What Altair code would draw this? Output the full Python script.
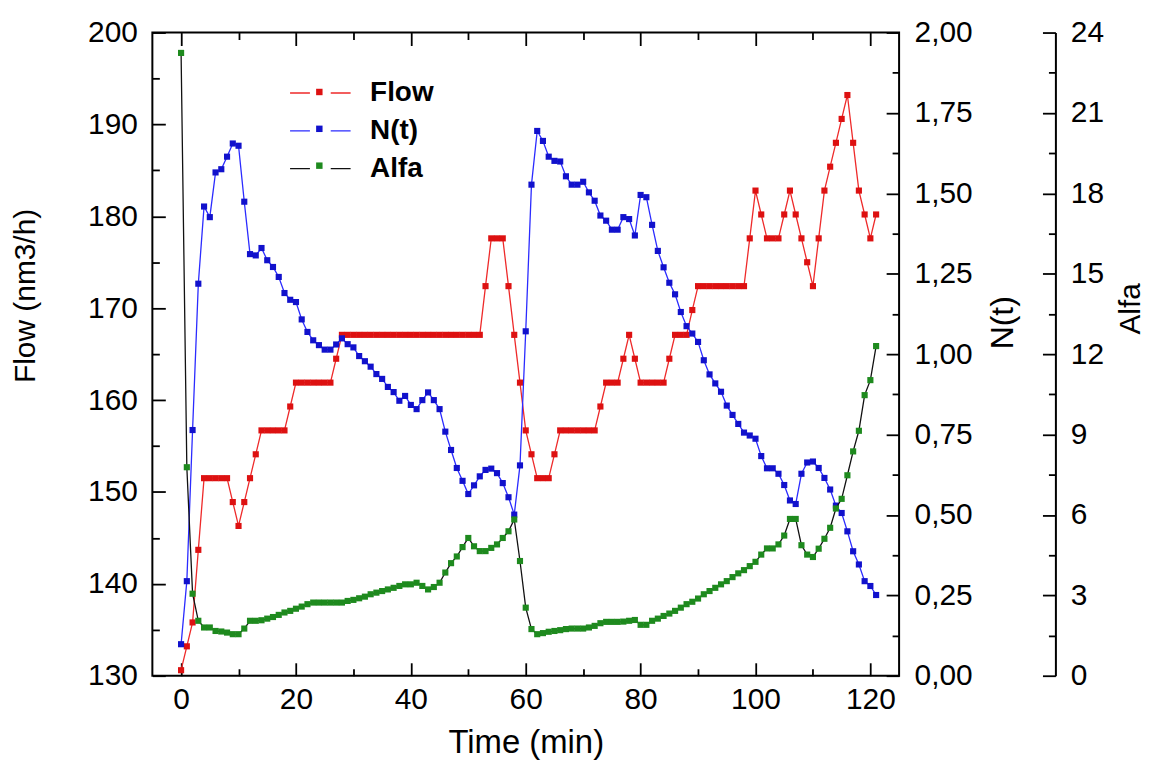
import altair as alt
import pandas as pd

FONT = "Liberation Sans"

time_min = list(range(0, 122))

flow = [130.6, 133.2, 135.8, 143.7, 151.5, 151.5, 151.5, 151.5, 151.5, 148.9,
        146.3, 148.9, 151.5, 154.1, 156.7, 156.7, 156.7, 156.7, 156.7, 159.3,
        161.9, 161.9, 161.9, 161.9, 161.9, 161.9, 161.9, 164.5, 167.1, 167.1,
        167.1, 167.1, 167.1, 167.1, 167.1, 167.1, 167.1, 167.1, 167.1, 167.1,
        167.1, 167.1, 167.1, 167.1, 167.1, 167.1, 167.1, 167.1, 167.1, 167.1,
        167.1, 167.1, 167.1, 172.4, 177.6, 177.6, 177.6, 172.4, 167.1, 161.9,
        156.7, 154.1, 151.5, 151.5, 151.5, 154.1, 156.7, 156.7, 156.7, 156.7,
        156.7, 156.7, 156.7, 159.3, 161.9, 161.9, 161.9, 164.5, 167.1, 164.5,
        161.9, 161.9, 161.9, 161.9, 161.9, 164.5, 167.1, 167.1, 167.1, 169.8,
        172.4, 172.4, 172.4, 172.4, 172.4, 172.4, 172.4, 172.4, 172.4, 177.6,
        182.8, 180.2, 177.6, 177.6, 177.6, 180.2, 182.8, 180.2, 177.6, 175.0,
        172.4, 177.6, 182.8, 185.4, 188.0, 190.6, 193.2, 188.0, 182.8, 180.2,
        177.6, 180.2]

n_t = [0.098, 0.294, 0.764, 1.219, 1.459, 1.426, 1.565, 1.575, 1.614, 1.655,
       1.648, 1.474, 1.311, 1.307, 1.330, 1.292, 1.271, 1.240, 1.190, 1.169,
       1.162, 1.108, 1.069, 1.043, 1.028, 1.014, 1.014, 1.030, 1.049, 1.031,
       1.021, 0.994, 0.978, 0.961, 0.938, 0.923, 0.898, 0.882, 0.855, 0.870,
       0.842, 0.829, 0.857, 0.881, 0.857, 0.829, 0.759, 0.702, 0.646, 0.606,
       0.565, 0.592, 0.620, 0.640, 0.644, 0.630, 0.599, 0.555, 0.501, 0.654,
       1.071, 1.527, 1.694, 1.663, 1.614, 1.601, 1.599, 1.553, 1.527, 1.527,
       1.536, 1.503, 1.477, 1.431, 1.415, 1.387, 1.387, 1.426, 1.420, 1.369,
       1.495, 1.488, 1.402, 1.321, 1.270, 1.222, 1.186, 1.131, 1.087, 1.064,
       1.038, 0.981, 0.937, 0.909, 0.883, 0.840, 0.811, 0.783, 0.756, 0.747,
       0.737, 0.683, 0.645, 0.645, 0.628, 0.593, 0.545, 0.534, 0.628, 0.663,
       0.666, 0.646, 0.615, 0.579, 0.529, 0.506, 0.449, 0.387, 0.346, 0.294,
       0.279, 0.251]

alfa = [23.24, 7.78, 3.06, 2.05, 1.80, 1.80, 1.67, 1.65, 1.61, 1.55,
        1.55, 1.76, 2.05, 2.05, 2.07, 2.13, 2.19, 2.27, 2.36, 2.42,
        2.50, 2.58, 2.67, 2.73, 2.73, 2.73, 2.73, 2.73, 2.73, 2.79,
        2.83, 2.89, 2.95, 3.04, 3.10, 3.16, 3.22, 3.28, 3.35, 3.41,
        3.41, 3.47, 3.35, 3.22, 3.31, 3.47, 3.85, 4.20, 4.45, 4.80,
        5.14, 4.83, 4.65, 4.65, 4.77, 4.90, 5.14, 5.39, 5.83, 4.28,
        2.54, 1.74, 1.55, 1.59, 1.64, 1.67, 1.70, 1.74, 1.76, 1.76,
        1.76, 1.80, 1.86, 1.96, 2.01, 2.01, 2.01, 2.02, 2.05, 2.08,
        1.90, 1.90, 2.05, 2.13, 2.23, 2.32, 2.42, 2.54, 2.67, 2.76,
        2.88, 3.04, 3.16, 3.28, 3.41, 3.53, 3.68, 3.82, 3.94, 4.09,
        4.25, 4.52, 4.75, 4.75, 4.90, 5.23, 5.85, 5.85, 4.87, 4.52,
        4.43, 4.74, 5.11, 5.52, 6.24, 6.60, 7.48, 8.37, 9.14, 10.47,
        11.03, 12.30]

series_names = ["Flow", "N(t)", "Alfa"]
marker_keys = ["Flow ■", "N(t) ■", "Alfa ■"]
line_colors = ["#ee2a2a", "#2b2bff", "#111111"]
marker_colors = ["#dd1111", "#1111cc", "#1e8a1e"]

x_major = [0, 20, 40, 60, 80, 100, 120]
x_minor = [10, 30, 50, 70, 90, 110]
flow_major = [130, 140, 150, 160, 170, 180, 190, 200]
flow_minor = [135, 145, 155, 165, 175, 185, 195]
n_major = [0, 0.25, 0.5, 0.75, 1.0, 1.25, 1.5, 1.75, 2.0]
n_minor = [0.125, 0.375, 0.625, 0.875, 1.125, 1.375, 1.625, 1.875]
alfa_major = [0, 3, 6, 9, 12, 15, 18, 21, 24]
alfa_minor = [1.5, 4.5, 7.5, 10.5, 13.5, 16.5, 19.5, 22.5]

df = pd.DataFrame({"t": time_min, "flow": flow, "n": n_t, "alfa": alfa})

W, H = 750, 646
X_DOM = [-5, 125]
MAJ, MIN = 13, 7
LBL = 30
ALFA_OFFSET = 157

stroke_scale = alt.Scale(domain=series_names, range=line_colors)
fill_scale = alt.Scale(domain=marker_keys, range=marker_colors)

LEG_X = 148.7
LEG_Y = 40.7
stroke_legend = alt.Legend(
    orient="none", legendX=LEG_X, legendY=LEG_Y, title=None, padding=0,
    rowPadding=4, symbolType="M-1.6,0H-0.55M0.55,0H1.6", symbolSize=1444,
    symbolStrokeWidth=1.3, symbolOffset=0, labelOffset=30, labelFont=FONT,
    labelFontSize=28, labelFontWeight="bold", labelColor="black",
)
fill_legend = alt.Legend(
    orient="none", legendX=LEG_X, legendY=LEG_Y, title=None, padding=0,
    rowPadding=4, symbolType="M-0.17,-0.17H0.17V0.17H-0.17Z", symbolSize=1444,
    symbolStrokeWidth=0, symbolOffset=0, labelOffset=30, labelFont=FONT,
    labelFontSize=28, labelExpr="''",
)

x_scale = alt.Scale(domain=X_DOM, nice=False, zero=False)
y_flow_scale = alt.Scale(domain=[130, 200], nice=False, zero=False)
y_n_scale = alt.Scale(domain=[0, 2], nice=False, zero=False)
y_alfa_scale = alt.Scale(domain=[0, 24], nice=False, zero=False)


def tick_axis(orient, values, size, offset):
    # tick-only axis, flipped to the opposite side so that ticks point inward
    return alt.Axis(orient=orient, values=values, tickSize=size, labels=False,
                    title=None, domain=False, grid=False, offset=offset)


ax_x_labels = alt.Axis(orient="bottom", values=x_major, ticks=False, labelPadding=9,
                       labelFontSize=LBL, title="Time (min)", titleFontSize=33,
                       titlePadding=12, domain=False, grid=False)
ax_flow_labels = alt.Axis(orient="left", values=flow_major, ticks=False, labelPadding=15,
                          labelFontSize=LBL, title="Flow (nm3/h)", titleFontSize=30,
                          titlePadding=47, titleY=264, domain=False, grid=False,
                          format="d")
ax_n_labels = alt.Axis(orient="right", values=n_major, ticks=False, labelPadding=15,
                       labelFontSize=LBL,
                       labelExpr="replace(format(datum.value, '.2f'), '.', ',')",
                       title="N(t)", titleFontSize=32, titleAngle=270,
                       titleBaseline="top", titlePadding=16, titleY=291,
                       domain=False, grid=False)
ax_alfa_labels = alt.Axis(orient="right", values=alfa_major, ticks=False, labelPadding=15,
                          labelFontSize=LBL, format="d", title="Alfa", titleFontSize=30,
                          titleAngle=270, titleBaseline="top", titlePadding=12,
                          titleY=277, domain=True, domainColor="black", domainWidth=2,
                          offset=ALFA_OFFSET, grid=False)


def series_layer(field, yscale, xaxis, yaxis, name, key):
    base = alt.Chart(df).encode(
        x=alt.X("t:Q", scale=x_scale, axis=xaxis),
        y=alt.Y(f"{field}:Q", scale=yscale, axis=yaxis),
    )
    line = base.mark_line(strokeWidth=1.3).transform_calculate(
        series=f"'{name}'"
    ).encode(stroke=alt.Stroke("series:N", scale=stroke_scale, legend=stroke_legend))
    pts = base.mark_square(size=38, opacity=1).transform_calculate(
        marker=f"'{key}'"
    ).encode(fill=alt.Fill("marker:N", scale=fill_scale, legend=fill_legend))
    return line + pts


def tick_layer(field, yscale, xaxis, yaxis):
    return alt.Chart(df).mark_point(opacity=0).encode(
        x=alt.X("t:Q", scale=x_scale, axis=xaxis),
        y=alt.Y(f"{field}:Q", scale=yscale, axis=yaxis),
    )


flow_layer = series_layer("flow", y_flow_scale, ax_x_labels, ax_flow_labels,
                          "Flow", "Flow ■")
n_layer = series_layer("n", y_n_scale, tick_axis("top", x_major, MAJ, -H), ax_n_labels,
                       "N(t)", "N(t) ■")
alfa_layer = series_layer("alfa", y_alfa_scale, tick_axis("top", x_minor, MIN, -H),
                          ax_alfa_labels, "Alfa", "Alfa ■")

ticks_flow_major = tick_layer("flow", y_flow_scale, tick_axis("bottom", x_major, MAJ, -H),
                              tick_axis("right", flow_major, MAJ, -W))
ticks_flow_minor = tick_layer("flow", y_flow_scale, tick_axis("bottom", x_minor, MIN, -H),
                              tick_axis("right", flow_minor, MIN, -W))
ticks_n_major = tick_layer("n", y_n_scale, None, tick_axis("left", n_major, MAJ, -W))
ticks_n_minor = tick_layer("n", y_n_scale, None, tick_axis("left", n_minor, MIN, -W))
ticks_alfa_major = tick_layer("alfa", y_alfa_scale, None,
                              tick_axis("left", alfa_major, MAJ, -(W + ALFA_OFFSET)))
ticks_alfa_minor = tick_layer("alfa", y_alfa_scale, None,
                              tick_axis("left", alfa_minor, MIN, -(W + ALFA_OFFSET)))

chart = alt.layer(
    ticks_flow_major, ticks_flow_minor, ticks_n_major, ticks_n_minor,
    ticks_alfa_major, ticks_alfa_minor, flow_layer, n_layer, alfa_layer,
).resolve_scale(
    x="independent", y="independent"
).resolve_axis(
    x="independent", y="independent"
).properties(
    width=W, height=H,
    autosize=alt.AutoSizeParams(type="none"),
    padding={"left": 145, "top": 23, "right": 250, "bottom": 85},
    background="white",
).configure_axis(
    labelFont=FONT, titleFont=FONT, titleFontWeight="normal", labelColor="black",
    titleColor="black", tickColor="black", tickWidth=1.8,
).configure_view(
    stroke="black", strokeWidth=2,
)

chart.save("out.html", embed_options={"renderer": "svg", "actions": False})
